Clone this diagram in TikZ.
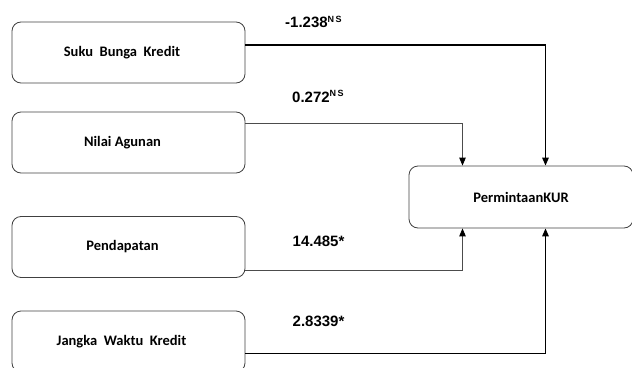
\documentclass[tikz,border=0pt]{standalone}
\usepackage{fontspec}
\setmainfont{Carlito}
\newfontfamily\numfont{Liberation Sans}
\usetikzlibrary{arrows.meta}
\begin{document}
\begin{tikzpicture}[x=1pt,y=-1pt,
  varbox/.style={draw=black!75,line width=0.8pt,rounded corners=9pt,minimum width=233pt,minimum height=61pt,inner sep=0pt,font=\fontsize{14.5}{16}\selectfont\bfseries},
  coef/.style={anchor=west,inner sep=0pt,font=\numfont\fontsize{15}{17}\selectfont\bfseries},
  strong/.style={line width=1.4pt,black,-{Triangle[length=8pt,width=6.5pt]}},
  weak/.style={line width=0.9pt,black!70,-{Triangle[length=8pt,width=6.5pt,color=black,fill=black]}}]
\useasboundingbox (0,0) rectangle (632,367);
\clip (0,0) rectangle (632,367);
\node[varbox] (b1) at (128.5,52.5) {Suku\ \ Bunga\ \ Kredit\hspace*{13pt}};
\node[varbox] (b2) at (128.5,142.5) {Nilai Agunan\hspace*{12pt}};
\node[varbox] (b3) at (128.5,247) {Pendapatan\hspace*{12pt}};
\node[varbox] (b4) at (128.5,341.5) {Jangka\ \ Waktu\ \ Kredit\hspace*{14pt}};
\node[varbox,minimum width=224pt,minimum height=62pt] (kur) at (521,197) {PermintaanKUR};
\coordinate (c1) at (545.5,45);
\coordinate (c2) at (462.5,123.5);
\coordinate (c3) at (462.5,270);
\coordinate (c4) at (545.5,353.3);
\draw[strong] (b1.east |- c1) -- (c1) -- (c1 |- kur.north);
\draw[weak] (b2.east |- c2) -- (c2) -- (c2 |- kur.north);
\draw[weak] (b3.east |- c3) -- (c3) -- (c3 |- kur.south);
\draw[strong] (b4.east |- c4) -- (c4) -- (c4 |- kur.south);
\node[coef] (l1) at (285,22) {-1.238\textsuperscript{\fontsize{9}{10}\selectfont N\,S}};
\node[coef] (l2) at (292,96.5) {0.272\textsuperscript{\fontsize{9}{10}\selectfont N\,S}};
\node[coef] (l3) at (292.5,241) {14.485*};
\node[coef] (l4) at (292.5,321.5) {2.8339*};
\end{tikzpicture}
\end{document}
